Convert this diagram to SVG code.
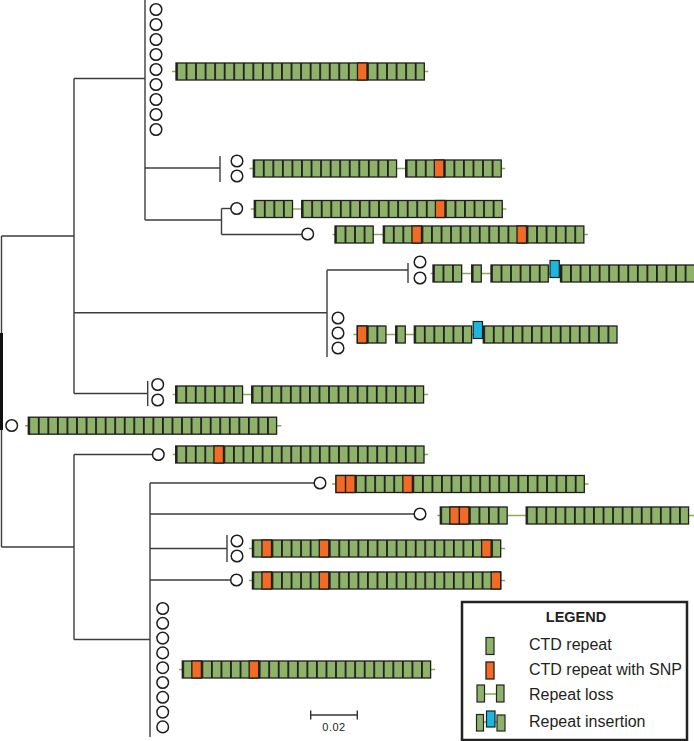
<svg xmlns="http://www.w3.org/2000/svg" width="694" height="741" viewBox="0 0 694 741">
<style>
.tree{stroke:#3c3c3c;stroke-width:1.4;fill:none}
.ci{fill:#fff;stroke:#1e1e1e;stroke-width:1.5}
.st{stroke:#8aaa5c;stroke-width:1.6}
.seg{fill:url(#cells);stroke:#1e1e1e;stroke-width:1.3}
.snp{fill:#f26a23;stroke:#1e1e1e;stroke-width:1.3}
.ins{fill:#1ab8e0;stroke:#1e1e1e;stroke-width:1.2}
.g{fill:#8fb26a;stroke:#222;stroke-width:1.2}
text{font-family:"Liberation Sans",Arial,sans-serif;fill:#231f20}
</style>
<defs>
<pattern id="cells" patternUnits="userSpaceOnUse" x="0" y="0" width="9.55" height="20">
<rect width="9.55" height="20" fill="#8fb26a"/>
<rect width="1.8" height="20" fill="#1e1e1e"/>
</pattern>
</defs>
<rect width="694" height="741" fill="#fff"/>
<g id="connectors" class="tree">
<line x1="1.5" y1="236" x2="1.5" y2="547"/>
<rect x="0" y="333" width="3" height="97" fill="#111" stroke="none"/>
<line x1="1.5" y1="236" x2="74" y2="236"/>
<line x1="74" y1="78.5" x2="74" y2="393.5"/>
<line x1="74" y1="78.5" x2="145" y2="78.5"/>
<line x1="145" y1="0" x2="145" y2="220"/>
<line x1="145" y1="168" x2="220" y2="168"/>
<line x1="220" y1="156" x2="220" y2="182"/>
<line x1="145" y1="220" x2="221.5" y2="220"/>
<line x1="221.5" y1="208.5" x2="221.5" y2="234.5"/>
<line x1="221.5" y1="208.5" x2="231" y2="208.5"/>
<line x1="221.5" y1="234.5" x2="302" y2="234.5"/>
<line x1="74" y1="312.7" x2="327" y2="312.7"/>
<line x1="327" y1="270" x2="327" y2="357"/>
<line x1="327" y1="270" x2="408" y2="270"/>
<line x1="408" y1="263" x2="408" y2="283"/>
<line x1="74" y1="393.5" x2="147.7" y2="393.5"/>
<line x1="147.7" y1="381" x2="147.7" y2="406"/>
<line x1="1.5" y1="547" x2="74" y2="547"/>
<line x1="74" y1="454.5" x2="74" y2="639.5"/>
<line x1="74" y1="454.5" x2="152.5" y2="454.5"/>
<line x1="150" y1="483" x2="150" y2="737"/>
<line x1="74" y1="639.5" x2="150" y2="639.5"/>
<line x1="150" y1="483" x2="314" y2="483"/>
<line x1="150" y1="514" x2="414" y2="514"/>
<line x1="150" y1="548.5" x2="227" y2="548.5"/>
<line x1="227" y1="535" x2="227" y2="562"/>
<line x1="150" y1="580" x2="230.5" y2="580"/>
</g>
<g id="leaf-a">
<circle class="ci" cx="156" cy="9.5" r="5.8"/><circle class="ci" cx="156" cy="24.5" r="5.8"/><circle class="ci" cx="156" cy="39.5" r="5.8"/><circle class="ci" cx="156" cy="54.5" r="5.8"/><circle class="ci" cx="156" cy="69.5" r="5.8"/><circle class="ci" cx="156" cy="84.5" r="5.8"/><circle class="ci" cx="156" cy="99.5" r="5.8"/><circle class="ci" cx="156" cy="114.5" r="5.8"/><circle class="ci" cx="156" cy="129.5" r="5.8"/>
<g transform="translate(176,71.5)"><line class="st" x1="-4" y1="0" x2="252.3" y2="0"/><rect class="seg" x="0" y="-8.5" width="248.3" height="17"/><rect class="snp" x="181.45" y="-8.5" width="9.55" height="17"/></g>
</g>
<g id="leaf-b">
<circle class="ci" cx="237" cy="161" r="5.8"/><circle class="ci" cx="237" cy="176" r="5.8"/>
<g transform="translate(253.3,168.5)"><line class="st" x1="-4" y1="0" x2="251.9" y2="0"/><rect class="seg" x="0" y="-8.5" width="143.25" height="17"/></g>
<g transform="translate(405.7,168.5)"><rect class="seg" x="0" y="-8.5" width="95.5" height="17"/><rect class="snp" x="28.65" y="-8.5" width="9.55" height="17"/></g>
</g>
<g id="leaf-c">
<circle class="ci" cx="236.7" cy="208.5" r="5.8"/>
<g transform="translate(254.3,209)"><line class="st" x1="-3.5" y1="0" x2="252" y2="0"/><rect class="seg" x="0" y="-8.5" width="38.2" height="17"/></g>
<g transform="translate(301.7,209)"><rect class="seg" x="0" y="-8.5" width="200.55" height="17"/><rect class="snp" x="133.7" y="-8.5" width="9.55" height="17"/></g>
</g>
<g id="leaf-d">
<circle class="ci" cx="307.7" cy="234" r="5.8"/>
<g transform="translate(335,234.5)"><line class="st" x1="-2.5" y1="0" x2="253" y2="0"/><rect class="seg" x="0" y="-8.5" width="38.2" height="17"/></g>
<g transform="translate(383.3,234.5)"><rect class="seg" x="0" y="-8.5" width="200.55" height="17"/><rect class="snp" x="28.65" y="-8.5" width="9.55" height="17"/><rect class="snp" x="133.7" y="-8.5" width="9.55" height="17"/></g>
</g>
<g id="leaf-e">
<circle class="ci" cx="420" cy="262" r="5.8"/><circle class="ci" cx="420" cy="278" r="5.8"/>
<g transform="translate(433,273.5)"><line class="st" x1="-2.5" y1="0" x2="262" y2="0"/><rect class="seg" x="0" y="-8.5" width="28.65" height="17"/></g>
<g transform="translate(471.7,273.5)"><rect class="seg" x="0" y="-8.5" width="9.55" height="17"/></g>
<g transform="translate(491,273.5)"><rect class="seg" x="0" y="-8.5" width="57.3" height="17"/><rect class="ins" x="59" y="-13" width="9.3" height="17"/></g>
<g transform="translate(560.5,273.5)"><rect class="seg" x="0" y="-8.5" width="143.25" height="17"/></g>
</g>
<g id="leaf-f">
<circle class="ci" cx="338" cy="318" r="5.8"/><circle class="ci" cx="338" cy="333" r="5.8"/><circle class="ci" cx="338" cy="348" r="5.8"/>
<g transform="translate(357.3,334.5)"><line class="st" x1="-4" y1="0" x2="259.7" y2="0"/><rect class="seg" x="0" y="-8.5" width="28.65" height="17"/><rect class="snp" x="0" y="-8.5" width="9.55" height="17"/></g>
<g transform="translate(395.7,334.5)"><rect class="seg" x="0" y="-8.5" width="9.55" height="17"/></g>
<g transform="translate(414.3,334.5)"><rect class="seg" x="0" y="-8.5" width="57.3" height="17"/><rect class="ins" x="58.9" y="-13" width="9.3" height="17"/></g>
<g transform="translate(483.3,334.5)"><rect class="seg" x="0" y="-8.5" width="133.7" height="17"/></g>
</g>
<g id="leaf-g">
<circle class="ci" cx="157.7" cy="384.5" r="5.8"/><circle class="ci" cx="157.7" cy="400" r="5.8"/>
<g transform="translate(175.7,394.5)"><line class="st" x1="-3" y1="0" x2="252.5" y2="0"/><rect class="seg" x="0" y="-8.5" width="66.85" height="17"/></g>
<g transform="translate(251.7,394.5)"><rect class="seg" x="0" y="-8.5" width="171.9" height="17"/></g>
</g>
<g id="leaf-h">
<circle class="ci" cx="11.7" cy="425.5" r="5.8"/>
<g transform="translate(28.3,425.7)"><line class="st" x1="-3.3" y1="0" x2="253" y2="0"/><rect class="seg" x="0" y="-8.5" width="248.3" height="17"/></g>
</g>
<g id="leaf-i">
<circle class="ci" cx="158.3" cy="454.5" r="5.8"/>
<g transform="translate(175.7,454.5)"><line class="st" x1="-3" y1="0" x2="252.5" y2="0"/><rect class="seg" x="0" y="-8.5" width="248.3" height="17"/><rect class="snp" x="38.2" y="-8.5" width="9.55" height="17"/></g>
</g>
<g id="leaf-j">
<circle class="ci" cx="320" cy="483" r="5.8"/>
<g transform="translate(336,484)"><line class="st" x1="-4" y1="0" x2="252.5" y2="0"/><rect class="seg" x="0" y="-8.5" width="248.3" height="17"/><rect class="snp" x="0" y="-8.5" width="9.55" height="17"/><rect class="snp" x="9.55" y="-8.5" width="9.55" height="17"/><rect class="snp" x="66.85" y="-8.5" width="9.55" height="17"/></g>
</g>
<g id="leaf-k">
<circle class="ci" cx="420" cy="514" r="5.8"/>
<g transform="translate(440.3,515.5)"><line class="st" x1="-3" y1="0" x2="254" y2="0"/><rect class="seg" x="0" y="-8.5" width="66.85" height="17"/><rect class="snp" x="9.55" y="-8.5" width="9.55" height="17"/><rect class="snp" x="19.1" y="-8.5" width="9.55" height="17"/></g>
<g transform="translate(526.2,515.5)"><rect class="seg" x="0" y="-8.5" width="162.35" height="17"/></g>
</g>
<g id="leaf-l">
<circle class="ci" cx="237" cy="541" r="5.8"/><circle class="ci" cx="237" cy="556" r="5.8"/>
<g transform="translate(252.4,548.5)"><line class="st" x1="-3.4" y1="0" x2="252.8" y2="0"/><rect class="seg" x="0" y="-8.5" width="248.3" height="17"/><rect class="snp" x="9.55" y="-8.5" width="9.55" height="17"/><rect class="snp" x="66.85" y="-8.5" width="9.55" height="17"/><rect class="snp" x="229.2" y="-8.5" width="9.55" height="17"/></g>
</g>
<g id="leaf-m">
<circle class="ci" cx="236.5" cy="580" r="5.8"/>
<g transform="translate(252.4,580.5)"><line class="st" x1="-3.4" y1="0" x2="252.8" y2="0"/><rect class="seg" x="0" y="-8.5" width="248.3" height="17"/><rect class="snp" x="9.55" y="-8.5" width="9.55" height="17"/><rect class="snp" x="66.85" y="-8.5" width="9.55" height="17"/><rect class="snp" x="238.75" y="-8.5" width="9.55" height="17"/></g>
</g>
<g id="leaf-n">
<circle class="ci" cx="162.7" cy="608.5" r="5.8"/><circle class="ci" cx="162.7" cy="623.3" r="5.8"/><circle class="ci" cx="162.7" cy="638.1" r="5.8"/><circle class="ci" cx="162.7" cy="652.9" r="5.8"/><circle class="ci" cx="162.7" cy="667.7" r="5.8"/><circle class="ci" cx="162.7" cy="682.5" r="5.8"/><circle class="ci" cx="162.7" cy="697.3" r="5.8"/><circle class="ci" cx="162.7" cy="712.1" r="5.8"/><circle class="ci" cx="162.7" cy="726.9" r="5.8"/>
<g transform="translate(182.3,669.5)"><line class="st" x1="-3.3" y1="0" x2="252.7" y2="0"/><rect class="seg" x="0" y="-8.5" width="248.3" height="17"/><rect class="snp" x="9.55" y="-8.5" width="9.55" height="17"/><rect class="snp" x="66.85" y="-8.5" width="9.55" height="17"/></g>
</g>
<g id="scale-bar">
<line x1="310.7" y1="715" x2="357.3" y2="715" stroke="#333" stroke-width="1.4"/>
<line x1="310.7" y1="710.5" x2="310.7" y2="719.5" stroke="#333" stroke-width="1.4"/>
<line x1="357.3" y1="710.5" x2="357.3" y2="719.5" stroke="#333" stroke-width="1.4"/>
<text x="334" y="731" font-size="11" text-anchor="middle" letter-spacing="0.5">0.02</text>
</g>
<g id="legend">
<rect x="462" y="602" width="225" height="138" fill="#fff" stroke="#222" stroke-width="2.5"/>
<text x="576" y="621.5" font-size="14.5" font-weight="bold" text-anchor="middle">LEGEND</text>
<rect class="g" x="486" y="637.5" width="8" height="17"/>
<text x="529" y="650" font-size="16">CTD repeat</text>
<rect class="snp" x="486" y="662" width="8" height="17"/>
<text x="529" y="675" font-size="16">CTD repeat with SNP</text>
<line class="st" x1="484" y1="694" x2="496" y2="694"/>
<rect class="g" x="477" y="685" width="7.5" height="17"/>
<rect class="g" x="496.5" y="685" width="7.5" height="17"/>
<text x="529" y="700" font-size="16">Repeat loss</text>
<line class="st" x1="483" y1="722" x2="497" y2="722"/>
<rect class="g" x="476.5" y="714.5" width="7" height="16.5"/>
<rect class="ins" x="486.5" y="711" width="8.5" height="16"/>
<rect class="g" x="497" y="715" width="8" height="16"/>
<text x="529" y="727" font-size="16">Repeat insertion</text>
</g>
</svg>
